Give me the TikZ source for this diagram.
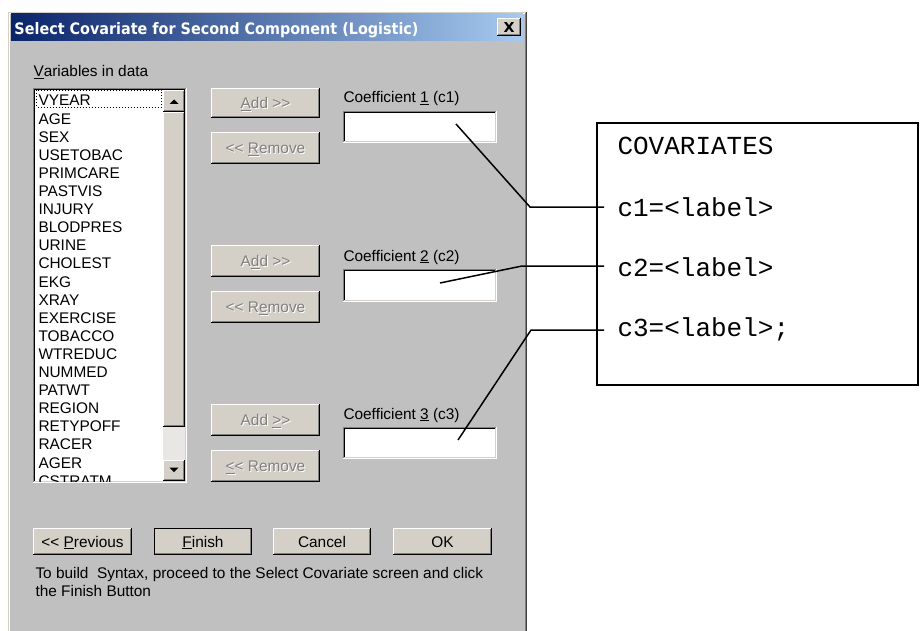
\documentclass[tikz,border=0pt]{standalone}
\usepackage{fontspec}
\usepackage{graphicx}
\setmainfont{Liberation Sans}
\newfontfamily\ttlfont{DejaVu Sans}
\newfontfamily\cmono{Liberation Mono}
\usetikzlibrary{calc}
\definecolor{dlg}{HTML}{C0C0C0}
\definecolor{face}{HTML}{D4D0C8}
\definecolor{dgray}{HTML}{808080}
\definecolor{navy}{HTML}{0A246A}
\definecolor{lblue}{HTML}{A6CAF0}
\definecolor{trackc}{HTML}{E9E7E3}
\newcommand\rarr{>\kern0pt>}
\newcommand\larr{<\kern0pt<}
\newcommand\dis[1]{\leavevmode\rlap{\raisebox{-1pt}{\kern1pt\textcolor{white}{#1}}}\textcolor{dgray}{#1}}
\newcommand\ubox[7]{\node[#6, minimum width={#4pt-#2pt}, minimum height={#5pt-#3pt}] (#1) at ({(#2+#4)/2},{(#3+#5)/2}) {#7};}
\newcommand\raised[1]{%
 \draw[white] ([shift={(0.5pt,1pt)}]#1.south west) -- ([shift={(0.5pt,-0.5pt)}]#1.north west) -- ([shift={(-1pt,-0.5pt)}]#1.north east);
 \draw[black] ([shift={(0pt,0.5pt)}]#1.south west) -- ([shift={(-0.5pt,0.5pt)}]#1.south east) -- ([shift={(-0.5pt,0pt)}]#1.north east);
 \draw[dgray] ([shift={(1pt,1.5pt)}]#1.south west) -- ([shift={(-1.5pt,1.5pt)}]#1.south east) -- ([shift={(-1.5pt,-1pt)}]#1.north east);}
\newcommand\sunken[1]{%
 \draw[dgray] ([shift={(0.5pt,0pt)}]#1.south west) -- ([shift={(0.5pt,-0.5pt)}]#1.north west) -- ([shift={(0pt,-0.5pt)}]#1.north east);
 \draw[black] ([shift={(1.5pt,1pt)}]#1.south west) -- ([shift={(1.5pt,-1.5pt)}]#1.north west) -- ([shift={(-1pt,-1.5pt)}]#1.north east);
 \draw[white] ([shift={(0pt,0.5pt)}]#1.south west) -- ([shift={(-0.5pt,0.5pt)}]#1.south east) -- ([shift={(-0.5pt,0pt)}]#1.north east);
 \draw[face] ([shift={(1pt,1.5pt)}]#1.south west) -- ([shift={(-1.5pt,1.5pt)}]#1.south east) -- ([shift={(-1.5pt,-1pt)}]#1.north east);}
\tikzset{
  ui/.style={font=\fontsize{15.4}{18}\selectfont, text=black},
  btn/.style={ui, fill=face, inner sep=0pt, outer sep=0pt, text height=11pt, text depth=0pt},
  field/.style={fill=white, inner sep=0pt, outer sep=0pt},
  lbl/.style={ui, anchor=base west, inner sep=0pt},
  item/.style={ui, anchor=base west, inner sep=0pt},
  code/.style={font=\cmono\fontsize{26}{28}\selectfont, anchor=base west, inner sep=0pt},
  conn/.style={line width=1.5pt, black},
}
\begin{document}
\begin{tikzpicture}[x=1pt,y=-1pt,line width=1pt]
\useasboundingbox (0,0) rectangle (920,631);
\fill[white] (0,0) rectangle (920,631);
% window
\fill[dlg] (8,12) rectangle (527,631);
\draw[face] (8.5,631) -- (8.5,12.5) -- (526,12.5);
\draw[white] (9.5,631) -- (9.5,13.5) -- (525,13.5);
\draw[black!75] (526.5,12) -- (526.5,631);
\draw[dgray] (525.5,13) -- (525.5,631);
\shade[left color=navy, right color=lblue] (11,14) rectangle (523,41);
\node[anchor=base west, inner sep=0pt, text=white] (title) at (14,34.5)
  {\resizebox{404pt}{12pt}{\ttlfont\bfseries Select Covariate for Second Component (Logistic)}};
\ubox{close}{497}{18}{521}{36}{btn}{\resizebox{11pt}{10pt}{\ttlfont\bfseries X}}
\raised{close}
% list label
\node[lbl] (varlbl) at (33,77) {\underline{V}ariables in data};
% list box
\ubox{list}{33}{88}{187}{483}{field}{}
\sunken{list}
\begin{scope}
\clip (35,90) rectangle (163,481);
\foreach \t [count=\i from 0] in {VYEAR,AGE,SEX,USETOBAC,PRIMCARE,PASTVIS,INJURY,BLODPRES,URINE,CHOLEST,EKG,XRAY,EXERCISE,TOBACCO,WTREDUC,NUMMED,PATWT,REGION,RETYPOFF,RACER,AGER,CSTRATM}
  \node[item] (v\i) at (38,{106+18.1*\i}) {\t};
\end{scope}
\draw[black, dotted, line width=1pt] (36.5,90.5) rectangle (161.5,107.5);
% scrollbar
\ubox{sbup}{163}{90}{185}{112}{btn}{}
\raised{sbup}
\fill[black] (169.5,104) -- (178.5,104) -- (174,99.5) -- cycle;
\ubox{thumb}{163}{112}{185}{427}{btn}{}
\raised{thumb}
\ubox{track}{163}{427}{185}{460}{fill=trackc,inner sep=0pt}{}
\ubox{sbdn}{163}{460}{185}{481}{btn}{}
\raised{sbdn}
\fill[black] (169.5,467.5) -- (178.5,467.5) -- (174,472) -- cycle;
% add / remove buttons
\ubox{add1}{211}{88}{320}{118}{btn}{\dis{\underline{A}dd \rarr}}
\raised{add1}
\ubox{rem1}{211}{132}{320}{164}{btn}{\dis{\larr\ \underline{R}emove}}
\raised{rem1}
\ubox{add2}{211}{245}{320}{277}{btn}{\dis{A\underline{d}d \rarr}}
\raised{add2}
\ubox{rem2}{211}{291}{320}{323}{btn}{\dis{\larr\ R\underline{e}move}}
\raised{rem2}
\ubox{add3}{211}{404}{320}{436}{btn}{\dis{Add \underline{>}>}}
\raised{add3}
\ubox{rem3}{211}{450}{320}{482}{btn}{\dis{\underline{<}< Remove}}
\raised{rem3}
% coefficient fields
\node[lbl] (cl1) at (343,103) {Coefficient \underline{1} (c1)};
\ubox{tb1}{343}{111}{497}{143}{field}{}
\sunken{tb1}
\node[lbl] (cl2) at (343,261) {Coefficient \underline{2} (c2)};
\ubox{tb2}{343}{269}{497}{302}{field}{}
\sunken{tb2}
\node[lbl] (cl3) at (343,419) {Coefficient \underline{3} (c3)};
\ubox{tb3}{343}{427}{497}{459}{field}{}
\sunken{tb3}
% bottom buttons
\ubox{prev}{33}{528}{132}{555}{btn}{\larr\ \underline{P}revious}
\raised{prev}
\ubox{finish}{154}{528}{252}{555}{btn}{\underline{F}inish}
\raised{finish}
\draw[black] (154.5,528.5) rectangle (251.5,554.5);
\ubox{cancel}{273}{528}{371}{555}{btn}{Cancel}
\raised{cancel}
\ubox{ok}{393}{528}{492}{555}{btn}{OK}
\raised{ok}
\node[lbl] (hint1) at (35,578) {To build~ Syntax, proceed to the Select Covariate screen and click};
\node[lbl] (hint2) at (35,596) {the Finish Button};
% covariates box
\draw[line width=2pt] (597,123) rectangle (918,385);
\node[code] (cov) at (617,155) {COVARIATES};
\node[code] (c1) at (617,216) {c1=<label>};
\node[code] (c2) at (617,276) {c2=<label>};
\node[code] (c3) at (617,336) {c3=<label>;};
% connectors
\coordinate (s1) at (456,124);
\coordinate (k1) at (530,207);
\coordinate (e1) at (604,207);
\coordinate (s2) at (440,283);
\coordinate (k2) at (522,266);
\coordinate (e2) at (604,266);
\coordinate (s3) at (458,440);
\coordinate (k3) at (531,330);
\coordinate (e3) at (604,330);
\draw[conn] (s1) -- (k1) -- (e1);
\draw[conn] (s2) -- (k2) -- (e2);
\draw[conn] (s3) -- (k3) -- (e3);
\end{tikzpicture}
\end{document}
